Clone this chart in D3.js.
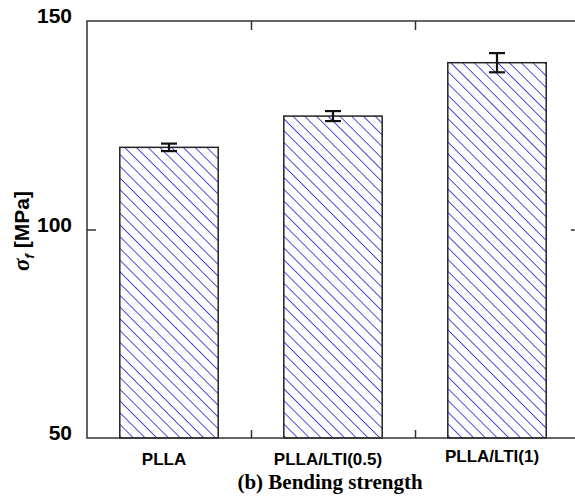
<!DOCTYPE html>
<html>
<head>
<meta charset="utf-8">
<script src="https://d3js.org/d3.v7.min.js"></script>
<style>
  body { margin: 0; background: #fff; overflow: hidden; }
  svg { display: block; }
</style>
</head>
<body>
<div id="chart"></div>
<script>
// Bending strength values
const categories = ["PLLA", "PLLA/LTI(0.5)", "PLLA/LTI(1)"];
const strength = [119.7, 127.2, 140.0];
const errors = [0.9, 1.2, 2.3];
const yTicks = [50, 100, 150];

const width = 575, height = 497;
const margin = {top: 21, right: -4, bottom: 59, left: 87};

const svg = d3.select("#chart")
    .append("svg")
    .attr("width", width)
    .attr("height", height);

// hatch pattern for the bars ("\" direction)
const defs = svg.append("defs");
const pat = defs.append("pattern")
    .attr("id", "hatch")
    .attr("patternUnits", "userSpaceOnUse")
    .attr("width", 8.3)
    .attr("height", 8.3)
    .attr("patternTransform", "rotate(-45)");
pat.append("line")
    .attr("x1", 0).attr("y1", 0)
    .attr("x2", 0).attr("y2", 8.3)
    .attr("stroke", "#3a3ad8")
    .attr("stroke-width", 1.8);

// scales work in page pixels directly
const x = d3.scaleBand()
    .domain(categories)
    .range([margin.left, width - margin.right])
    .paddingInner(0.4)
    .paddingOuter(0.2);

// boundaries between categories, for the tick marks
const xb = d3.scaleLinear().domain([0, categories.length]).range([margin.left, width - margin.right]);

const y = d3.scaleLinear()
    .domain([50, 150])
    .range([height - margin.bottom, margin.top]);

const x0 = margin.left, x1 = width - margin.right;
const y0 = height - margin.bottom, y1 = margin.top;

// bars
svg.selectAll(".bar")
    .data(categories)
    .enter()
    .append("rect")
    .attr("class", "bar")
    .attr("x", d => x(d))
    .attr("y", (d, i) => y(strength[i]))
    .attr("width", x.bandwidth())
    .attr("height", (d, i) => y0 - y(strength[i]))
    .attr("fill", "url(#hatch)")
    .attr("stroke", "#222")
    .attr("stroke-width", 1.5);

// error bars
const eb = svg.selectAll(".err")
    .data(categories)
    .enter()
    .append("g")
    .attr("class", "err")
    .attr("stroke", "#111")
    .attr("stroke-width", 2.2);
eb.append("line")
    .attr("x1", d => x(d) + x.bandwidth() / 2)
    .attr("x2", d => x(d) + x.bandwidth() / 2)
    .attr("y1", (d, i) => y(strength[i] + errors[i]))
    .attr("y2", (d, i) => y(strength[i] - errors[i]));
[1, -1].forEach(s => {
    eb.append("line")
        .attr("x1", d => x(d) + x.bandwidth() / 2 - 8)
        .attr("x2", d => x(d) + x.bandwidth() / 2 + 8)
        .attr("y1", (d, i) => y(strength[i] + s * errors[i]))
        .attr("y2", (d, i) => y(strength[i] + s * errors[i]));
});

// frame
svg.append("rect")
    .attr("x", x0).attr("y", y1)
    .attr("width", x1 - x0).attr("height", y0 - y1)
    .attr("fill", "none")
    .attr("stroke", "#333")
    .attr("stroke-width", 1.5);

// axes (inward ticks on all four sides)
const axisStyle = sel => {
    sel.select(".domain").remove();
    sel.selectAll(".tick line").attr("stroke", "#333").attr("stroke-width", 1.5);
};

svg.append("g")
    .attr("transform", `translate(${x0},0)`)
    .call(d3.axisRight(y).tickValues([100]).tickSize(9).tickFormat(""))
    .call(axisStyle);
svg.append("g")
    .attr("transform", `translate(${x1},0)`)
    .call(d3.axisLeft(y).tickValues([100]).tickSize(8).tickFormat(""))
    .call(axisStyle);
svg.append("g")
    .attr("transform", `translate(0,${y1})`)
    .call(d3.axisBottom(xb).tickValues([1, 2]).tickSize(9).tickFormat(""))
    .call(axisStyle);
svg.append("g")
    .attr("transform", `translate(0,${y0})`)
    .call(d3.axisTop(xb).tickValues([1, 2]).tickSize(8).tickFormat(""))
    .call(axisStyle);

// y tick labels
svg.selectAll(".ylab")
    .data(yTicks)
    .enter()
    .append("text")
    .attr("class", "ylab")
    .attr("x", x0 - 15)
    .attr("y", d => y(d) + 2)
    .attr("text-anchor", "end")
    .attr("font-family", "Liberation Sans, Arial, sans-serif")
    .attr("font-weight", "bold")
    .attr("font-size", 21)
    .text(d => d);

// category labels
svg.selectAll(".xlab")
    .data(categories)
    .enter()
    .append("text")
    .attr("class", "xlab")
    .attr("x", d => x(d) + x.bandwidth() / 2 - 5)
    .attr("y", (d, i) => y0 + (i === 2 ? 24 : 27))
    .attr("text-anchor", "middle")
    .attr("font-family", "Liberation Sans, Arial, sans-serif")
    .attr("font-weight", "bold")
    .attr("font-size", 17)
    .text(d => d);

// y axis title
const yt = svg.append("text")
    .attr("transform", "translate(29,231) rotate(-90)")
    .attr("text-anchor", "middle")
    .attr("font-family", "Liberation Sans, Arial, sans-serif")
    .attr("font-weight", "bold")
    .attr("font-size", 21);
yt.append("tspan").attr("font-style", "italic").attr("font-family", "Liberation Serif, serif").attr("font-size", 23).text("σ");
yt.append("tspan").attr("font-style", "italic").attr("font-size", 13).attr("dy", 5).text("f");
yt.append("tspan").attr("dy", -5).text(" [MPa]");

// caption
svg.append("text")
    .attr("x", 330)
    .attr("y", 489)
    .attr("text-anchor", "middle")
    .attr("font-family", "Liberation Serif, 'Times New Roman', serif")
    .attr("font-weight", "bold")
    .attr("font-size", 21)
    .text("(b) Bending strength");
</script>
</body>
</html>
